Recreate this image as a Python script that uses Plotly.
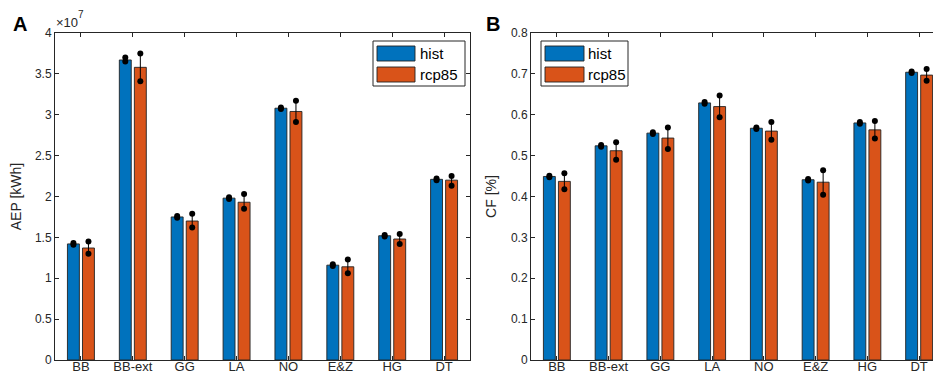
import plotly.graph_objects as go

categories = ["BB", "BB-ext", "GG", "LA", "NO", "E&Z", "HG", "DT"]

# Panel A: AEP in units of 1e7 kWh
aep_hist = [1.42, 3.67, 1.75, 1.98, 3.08, 1.16, 1.52, 2.21]
aep_hist_lo = [1.41, 3.65, 1.74, 1.97, 3.07, 1.15, 1.51, 2.20]
aep_hist_hi = [1.43, 3.70, 1.76, 1.99, 3.09, 1.17, 1.53, 2.22]
aep_rcp = [1.37, 3.58, 1.70, 1.93, 3.04, 1.14, 1.48, 2.20]
aep_rcp_lo = [1.30, 3.41, 1.62, 1.85, 2.91, 1.06, 1.42, 2.13]
aep_rcp_hi = [1.45, 3.75, 1.79, 2.03, 3.17, 1.23, 1.54, 2.25]

# Panel B: CF
cf_hist = [0.449, 0.524, 0.555, 0.629, 0.567, 0.441, 0.580, 0.704]
cf_hist_lo = [0.447, 0.522, 0.553, 0.627, 0.565, 0.439, 0.578, 0.702]
cf_hist_hi = [0.451, 0.526, 0.557, 0.631, 0.569, 0.443, 0.582, 0.706]
cf_rcp = [0.437, 0.512, 0.543, 0.620, 0.560, 0.435, 0.563, 0.697]
cf_rcp_lo = [0.418, 0.490, 0.516, 0.594, 0.539, 0.404, 0.542, 0.683]
cf_rcp_hi = [0.457, 0.533, 0.569, 0.647, 0.582, 0.464, 0.585, 0.712]

series_names = ["hist", "rcp85"]
BLUE = "#0072BD"
ORANGE = "#D95319"
AX = "#262626"
FONT = "Liberation Sans, Arial, sans-serif"

W, H = 941, 372
fig = go.Figure()

xs = list(range(len(categories)))
OFF = 0.145
BW = 0.23


def add_panel(xa, ya, hist, hlo, hhi, rcp, rlo, rhi):
    for vals, lo, hi, col, sgn in [(hist, hlo, hhi, BLUE, -1), (rcp, rlo, rhi, ORANGE, 1)]:
        fig.add_trace(go.Bar(
            x=xs, y=vals, width=BW, offset=sgn * OFF - BW / 2,
            marker=dict(color=col, line=dict(color="#222222", width=0.9)),
            xaxis=xa, yaxis=ya, showlegend=False, hoverinfo="skip"))
        xp = [x + sgn * OFF for x in xs]
        fig.add_trace(go.Scatter(
            x=xp, y=vals, mode="markers", marker=dict(size=0.1, color="black", opacity=0),
            error_y=dict(type="data", symmetric=False,
                         array=[h - v for h, v in zip(hi, vals)],
                         arrayminus=[v - l for v, l in zip(vals, lo)],
                         color="black", thickness=1, width=0),
            xaxis=xa, yaxis=ya, showlegend=False, hoverinfo="skip"))
        fig.add_trace(go.Scatter(
            x=xp + xp, y=list(lo) + list(hi), mode="markers",
            marker=dict(size=6, color="black"),
            xaxis=xa, yaxis=ya, showlegend=False, hoverinfo="skip"))


add_panel("x", "y", aep_hist, aep_hist_lo, aep_hist_hi, aep_rcp, aep_rcp_lo, aep_rcp_hi)
add_panel("x2", "y2", cf_hist, cf_hist_lo, cf_hist_hi, cf_rcp, cf_rcp_lo, cf_rcp_hi)

ydom = [1 - 352 / H, 1 - 25 / H]
xcommon = dict(range=[-0.5, 7.5], tickmode="array", tickvals=xs, ticktext=categories,
               showline=True, linecolor=AX, linewidth=1, mirror="ticks",
               ticks="inside", ticklen=4, tickcolor=AX, showgrid=False, zeroline=False,
               ticklabelstandoff=-6,
               tickfont=dict(family=FONT, size=13, color=AX), fixedrange=True)
ycommon = dict(showline=True, linecolor=AX, linewidth=1, mirror="ticks",
               ticks="inside", ticklen=4, tickcolor=AX, showgrid=False, zeroline=False,
               tickfont=dict(family=FONT, size=12, color=AX), domain=ydom)

fig.update_layout(
    width=W, height=H,
    margin=dict(l=0, r=0, t=0, b=0, autoexpand=False),
    paper_bgcolor="white", plot_bgcolor="white",
    barmode="overlay", showlegend=False,
    xaxis=dict(domain=[47 / W, 462 / W], anchor="y", **xcommon),
    xaxis2=dict(domain=[523 / W, 937 / W], anchor="y2", **xcommon),
    yaxis=dict(anchor="x", range=[0, 4], tickvals=[0, 0.5, 1, 1.5, 2, 2.5, 3, 3.5, 4],
               ticktext=["0", "0.5", "1", "1.5", "2", "2.5", "3", "3.5", "4"],
               title=dict(text="AEP [kWh]", font=dict(family=FONT, size=14, color=AX), standoff=15),
               **ycommon),
    yaxis2=dict(anchor="x2", range=[0, 0.8], tickvals=[0, 0.1, 0.2, 0.3, 0.4, 0.5, 0.6, 0.7, 0.8],
                ticktext=["0", "0.1", "0.2", "0.3", "0.4", "0.5", "0.6", "0.7", "0.8"],
                title=dict(text="CF [%]", font=dict(family=FONT, size=14, color=AX), standoff=11),
                **ycommon),
)

annotations = [
    dict(text="<b>A</b>", x=3 / W, y=1 - 3 / H, xref="paper", yref="paper", xanchor="left", yanchor="top",
         showarrow=False, font=dict(family=FONT, size=20, color="black")),
    dict(text="<b>B</b>", x=476 / W, y=1 - 3 / H, xref="paper", yref="paper", xanchor="left", yanchor="top",
         showarrow=False, font=dict(family=FONT, size=20, color="black")),
    dict(text="×10", x=46 / W, y=1 - 24 / H, xref="paper", yref="paper", xanchor="left", yanchor="bottom",
         showarrow=False, font=dict(family=FONT, size=13, color=AX)),
    dict(text="7", x=68 / W, y=1 - 14 / H, xref="paper", yref="paper", xanchor="left", yanchor="bottom",
         showarrow=False, font=dict(family=FONT, size=10, color=AX)),
]

shapes = []
# legends (custom, as in the MATLAB figure)
for (bx0, bx1, sx0, sx1, tx) in [(365, 457, 369, 407, 410), (533, 620, 537, 576, 578)]:
    shapes.append(dict(type="rect", xref="paper", yref="paper", x0=bx0 / W, x1=bx1 / W,
                       y0=1 - 78 / H, y1=1 - 33 / H, line=dict(color=AX, width=1), fillcolor="white", layer="above"))
    for i, (nm, col) in enumerate(zip(series_names, [BLUE, ORANGE])):
        yt = 38 + i * 21
        shapes.append(dict(type="rect", xref="paper", yref="paper", x0=sx0 / W, x1=sx1 / W,
                           y0=1 - (yt + 15) / H, y1=1 - yt / H, line=dict(color="#222222", width=0.9),
                           fillcolor=col, layer="above"))
        annotations.append(dict(text=nm, x=tx / W, y=1 - (yt + 7.5) / H, xref="paper", yref="paper",
                                xanchor="left", yanchor="middle", showarrow=False,
                                font=dict(family=FONT, size=15, color="black")))

fig.update_layout(annotations=annotations, shapes=shapes)
fig.write_html("out.html")
